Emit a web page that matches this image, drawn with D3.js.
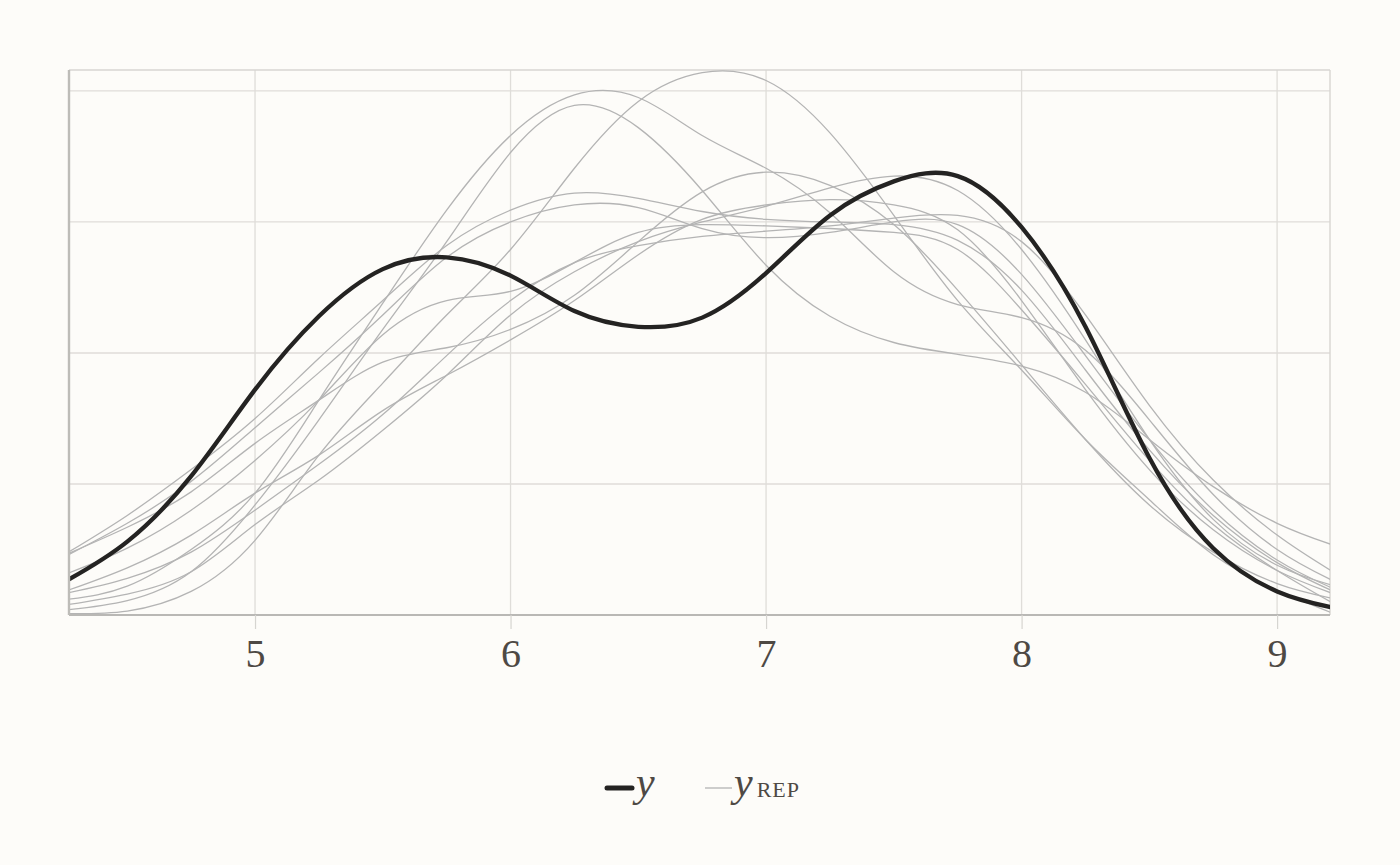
<!DOCTYPE html>
<html>
<head>
<meta charset="utf-8">
<script src="https://cdn.jsdelivr.net/npm/d3@7"></script>
<style>
  html, body { margin: 0; padding: 0; background: #fdfcf9; }
  svg { display: block; }
</style>
</head>
<body>
<div id="chart"></div>
<script>
// evaluation grid for the density estimates
const xs = [4.27, 4.5, 4.75, 5, 5.25, 5.5, 5.75, 6, 6.25, 6.5, 6.75, 7, 7.25, 7.5, 7.75, 8, 8.25, 8.5, 8.75, 9, 9.21];

// observed y density
const yObs = [0.027, 0.056, 0.106, 0.172, 0.228, 0.264, 0.273, 0.259, 0.232, 0.220, 0.227, 0.261, 0.305, 0.331, 0.335, 0.296, 0.220, 0.120, 0.051, 0.018, 0.006];

// replicated densities (yrep draws)
const yrep1 = [0.001, 0.003, 0.018, 0.057, 0.122, 0.177, 0.229, 0.279, 0.341, 0.392, 0.414, 0.408, 0.368, 0.305, 0.240, 0.187, 0.134, 0.088, 0.046, 0.019, 0.002];
const yrep2 = [0.012, 0.022, 0.050, 0.093, 0.164, 0.238, 0.309, 0.366, 0.397, 0.395, 0.366, 0.341, 0.307, 0.262, 0.237, 0.227, 0.202, 0.149, 0.092, 0.050, 0.027];
const yrep3 = [0.004, 0.011, 0.033, 0.084, 0.149, 0.218, 0.285, 0.353, 0.389, 0.372, 0.324, 0.267, 0.228, 0.208, 0.199, 0.190, 0.170, 0.134, 0.098, 0.070, 0.054];
const yrep4 = [0.047, 0.067, 0.094, 0.131, 0.164, 0.193, 0.204, 0.218, 0.244, 0.285, 0.323, 0.338, 0.328, 0.298, 0.248, 0.191, 0.134, 0.084, 0.048, 0.024, 0.013];
const yrep5 = [0.008, 0.016, 0.033, 0.069, 0.103, 0.141, 0.183, 0.229, 0.262, 0.285, 0.300, 0.312, 0.326, 0.335, 0.324, 0.279, 0.210, 0.134, 0.073, 0.038, 0.023];
const yrep6 = [0.017, 0.028, 0.048, 0.080, 0.115, 0.153, 0.198, 0.240, 0.269, 0.282, 0.289, 0.293, 0.297, 0.303, 0.305, 0.285, 0.229, 0.160, 0.103, 0.061, 0.034];
const yrep7 = [0.019, 0.036, 0.061, 0.093, 0.122, 0.156, 0.183, 0.210, 0.240, 0.275, 0.302, 0.313, 0.317, 0.313, 0.294, 0.240, 0.172, 0.111, 0.065, 0.034, 0.017];
const yrep8 = [0.048, 0.076, 0.111, 0.150, 0.196, 0.240, 0.282, 0.309, 0.322, 0.318, 0.308, 0.302, 0.300, 0.298, 0.286, 0.248, 0.187, 0.126, 0.076, 0.040, 0.019];
const yrep9 = [0.046, 0.070, 0.102, 0.143, 0.185, 0.229, 0.273, 0.300, 0.313, 0.311, 0.295, 0.288, 0.292, 0.300, 0.298, 0.260, 0.198, 0.134, 0.080, 0.042, 0.021];
const yrep10 = [0.032, 0.051, 0.080, 0.118, 0.164, 0.214, 0.240, 0.247, 0.269, 0.292, 0.298, 0.297, 0.295, 0.292, 0.279, 0.233, 0.176, 0.118, 0.069, 0.034, 0.010];

const xTicks = [5, 6, 7, 8, 9];
const yGrid = [0.1, 0.2, 0.3, 0.4];

const yreps = [yrep1, yrep2, yrep3, yrep4, yrep5, yrep6, yrep7, yrep8, yrep9, yrep10];

const size = { width: 1400, height: 865 };
const margin = { top: 70, right: 70, bottom: 250, left: 69 };

const svg = d3.select('#chart')
  .append('svg')
  .attr('width', size.width)
  .attr('height', size.height);

svg.append('rect')
  .attr('width', size.width)
  .attr('height', size.height)
  .attr('fill', '#fdfcf9');

const x = d3.scaleLinear()
  .domain([4.272, 9.207])
  .range([margin.left, size.width - margin.right]);

const y = d3.scaleLinear()
  .domain([0, 0.416])
  .range([size.height - margin.bottom, margin.top]);

const [x0, x1] = x.range();
const [y0, y1] = y.range();

// grid
svg.append('g')
  .selectAll('line')
  .data(yGrid)
  .join('line')
  .attr('x1', x0).attr('x2', x1)
  .attr('y1', (d) => y(d)).attr('y2', (d) => y(d))
  .attr('stroke', '#dfddd9')
  .attr('stroke-width', 1.3);

svg.append('g')
  .selectAll('line')
  .data(xTicks)
  .join('line')
  .attr('x1', (d) => x(d)).attr('x2', (d) => x(d))
  .attr('y1', y1).attr('y2', y0)
  .attr('stroke', '#dfddd9')
  .attr('stroke-width', 1.3);

// panel border (top + right)
svg.append('line')
  .attr('x1', x0).attr('x2', x1).attr('y1', y1).attr('y2', y1)
  .attr('stroke', '#d7d6d2').attr('stroke-width', 1.4);
svg.append('line')
  .attr('x1', x1).attr('x2', x1).attr('y1', y1).attr('y2', y0)
  .attr('stroke', '#d7d6d2').attr('stroke-width', 1.4);

svg.append('clipPath')
  .attr('id', 'clip')
  .append('rect')
  .attr('x', x0).attr('y', y1 - 1)
  .attr('width', x1 - x0).attr('height', y0 - y1 + 1);

const line = d3.line()
  .x((d) => x(d[0]))
  .y((d) => y(d[1]))
  .curve(d3.curveNatural);

const plot = svg.append('g').attr('clip-path', 'url(#clip)');

plot.selectAll('.yrep')
  .data(yreps)
  .join('path')
  .attr('class', 'yrep')
  .attr('d', (vals) => line(xs.map((v, i) => [v, vals[i]])))
  .attr('fill', 'none')
  .attr('stroke', '#b4b4b4')
  .attr('stroke-width', 1.3);

plot.append('path')
  .attr('d', line(xs.map((v, i) => [v, yObs[i]])))
  .attr('fill', 'none')
  .attr('stroke', '#242322')
  .attr('stroke-width', 4.3);

// x axis
const xAxis = svg.append('g')
  .attr('transform', `translate(0, ${y0})`)
  .call(d3.axisBottom(x).tickValues(xTicks).tickSize(14).tickSizeOuter(0).tickPadding(10).tickFormat(d3.format('d')));

xAxis.select('.domain')
  .attr('stroke', '#b9b8b5')
  .attr('stroke-width', 2)
  .attr('d', `M${x0},0H${x1}`);
xAxis.selectAll('.tick line').attr('stroke', '#d6d5d1').attr('stroke-width', 1.2);
xAxis.selectAll('.tick text')
  .attr('fill', '#4e4944')
  .style('font-family', '"Liberation Serif", "DejaVu Serif", serif')
  .style('font-size', '40px');

// left axis line
svg.append('line')
  .attr('x1', x0).attr('x2', x0).attr('y1', y1).attr('y2', y0)
  .attr('stroke', '#bdbcb8').attr('stroke-width', 2.4);

// legend
const legend = svg.append('g').attr('transform', 'translate(0, 788)');

legend.append('line')
  .attr('x1', 607).attr('x2', 632).attr('y1', 0).attr('y2', 0)
  .attr('stroke', '#242322').attr('stroke-width', 5).attr('stroke-linecap', 'round');
legend.append('text')
  .attr('x', 636).attr('y', 8)
  .attr('fill', '#4e4944')
  .style('font-family', '"Liberation Serif", serif')
  .style('font-style', 'italic')
  .style('font-size', '42px')
  .text('y');

legend.append('line')
  .attr('x1', 705).attr('x2', 732).attr('y1', 0).attr('y2', 0)
  .attr('stroke', '#b4b4b4').attr('stroke-width', 1.3);
const rep = legend.append('text')
  .attr('x', 734).attr('y', 8)
  .attr('fill', '#4e4944')
  .style('font-family', '"Liberation Serif", serif')
  .style('font-size', '42px');
rep.append('tspan').style('font-style', 'italic').text('y');
rep.append('tspan').attr('dx', 4).attr('y', 9).style('font-size', '22px').style('letter-spacing', '1px').text('REP');
</script>
</body>
</html>
